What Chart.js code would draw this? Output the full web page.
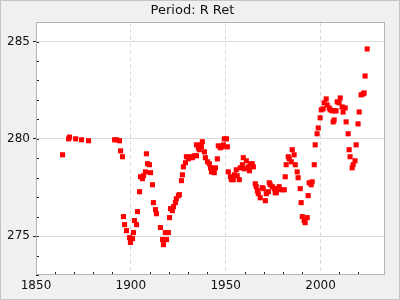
<!DOCTYPE html>
<html>
<head>
<meta charset="utf-8">
<script src="https://cdn.jsdelivr.net/npm/chart.js@4/dist/chart.umd.min.js"></script>
<style>
  html, body { margin: 0; padding: 0; background: #f0f0f0; }
  #wrap { width: 400px; height: 300px; }
</style>
</head>
<body>
<div id="wrap"><canvas id="chart" width="400" height="300"></canvas></div>
<script>
// Period: R Ret
const years = [
  1864.0, 1867.2, 1867.7, 1870.9, 1874.0, 1877.7, 1891.4, 1892.5, 1894.0, 1894.6,
  1895.6, 1896.1, 1896.7, 1897.7, 1899.3, 1899.8, 1900.9, 1901.4, 1901.9, 1903.0,
  1903.5, 1904.6, 1905.1, 1906.1, 1906.7, 1907.7, 1908.2, 1908.8, 1909.8, 1910.4,
  1911.4, 1911.9, 1913.0, 1913.5, 1915.6, 1916.7, 1917.2, 1917.7, 1918.2, 1918.8,
  1919.8, 1920.4, 1920.9, 1921.9, 1922.5, 1923.5, 1924.0, 1925.1, 1925.6, 1926.7,
  1927.2, 1927.7, 1928.8, 1929.3, 1930.4, 1931.4, 1932.5, 1933.5, 1934.6, 1934.6,
  1935.6, 1936.1, 1936.7, 1937.2, 1937.7, 1938.8, 1939.3, 1940.4, 1941.4, 1942.0,
  1942.5, 1943.5, 1944.0, 1944.6, 1945.6, 1946.1, 1947.2, 1948.2, 1948.8, 1949.3,
  1950.4, 1950.9, 1951.4, 1952.5, 1953.0, 1954.0, 1954.6, 1955.6, 1956.1, 1957.2,
  1957.7, 1958.8, 1959.3, 1959.8, 1960.9, 1961.9, 1962.5, 1963.0, 1964.0, 1964.6,
  1965.6, 1966.1, 1966.7, 1967.2, 1968.2, 1969.3, 1969.8, 1970.9, 1971.4, 1972.5,
  1973.0, 1973.5, 1974.6, 1975.6, 1976.1, 1976.7, 1977.2, 1978.2, 1979.3, 1980.9,
  1981.4, 1981.9, 1983.0, 1983.5, 1984.6, 1985.1, 1986.1, 1986.7, 1987.7, 1988.2,
  1989.3, 1989.8, 1990.4, 1991.4, 1991.9, 1993.0, 1993.5, 1994.0, 1995.1, 1995.6,
  1996.7, 1997.2, 1998.2, 1998.8, 1999.8, 2000.4, 2001.4, 2001.9, 2003.0, 2003.5,
  2004.6, 2005.1, 2006.1, 2006.7, 2007.2, 2007.7, 2008.2, 2008.8, 2009.8, 2010.4,
  2011.4, 2011.9, 2013.0, 2013.5, 2014.6, 2015.1, 2015.6, 2016.7, 2017.2, 2018.2,
  2018.8, 2019.8, 2020.4, 2021.4, 2022.5, 2023.0, 2023.5, 2024.6
];
const values = [
  279.18, 280.00, 280.09, 280.00, 279.95, 279.90, 279.95, 279.95, 279.90, 279.38,
  279.08, 276.00, 275.59, 275.28, 274.92, 274.67, 274.87, 275.18, 275.80, 275.59,
  276.26, 277.28, 278.05, 277.95, 278.10, 278.30, 279.23, 278.72, 278.67, 278.26,
  277.64, 276.72, 276.36, 276.15, 275.44, 274.82, 274.56, 274.82, 275.18, 274.82,
  275.18, 275.95, 276.41, 276.31, 276.51, 276.72, 276.92, 277.08, 277.13, 277.85,
  278.15, 278.56, 278.77, 279.08, 278.97, 279.08, 279.03, 279.13, 279.13, 279.69,
  279.54, 279.44, 279.69, 279.59, 279.85, 279.33, 279.03, 278.82, 278.72, 278.51,
  278.30, 278.46, 278.26, 278.51, 278.97, 279.64, 279.54, 279.59, 279.69, 280.00,
  280.00, 279.59, 278.30, 278.05, 277.90, 277.90, 278.15, 278.41, 278.10, 277.90,
  278.51, 278.67, 279.03, 278.46, 278.87, 278.56, 278.36, 278.72, 278.72, 278.56,
  277.69, 277.54, 277.33, 277.18, 276.97, 277.49, 277.44, 276.82, 277.18, 277.28,
  277.74, 277.64, 277.54, 277.44, 277.23, 277.23, 277.44, 277.54, 277.38, 277.38,
  278.05, 278.67, 279.08, 278.97, 278.82, 279.44, 279.18, 278.67, 278.30, 278.00,
  277.44, 276.72, 276.00, 275.80, 275.69, 275.95, 277.08, 277.74, 277.64, 277.79,
  278.67, 279.69, 280.26, 280.56, 281.08, 281.49, 281.54, 281.85, 282.05, 281.74,
  281.59, 281.49, 281.44, 280.87, 280.97, 281.44, 281.44, 281.90, 281.85, 282.10,
  281.64, 281.38, 281.59, 280.87, 280.26, 279.44, 279.08, 278.51, 278.67, 278.87,
  279.69, 280.77, 281.38, 282.26, 282.31, 282.36, 283.23, 284.62
];
const titleText = 'Period: R Ret';

const points = years.map((y, i) => ({ x: y, y: values[i] }));

// frame, plot border and the small inward ticks
const framePlugin = {
  id: 'frame',
  beforeDraw(chart) {
    const ctx = chart.ctx;
    ctx.save();
    ctx.fillStyle = '#f0f0f0';
    ctx.fillRect(0, 0, chart.width, chart.height);
    const a = chart.chartArea;
    ctx.fillStyle = '#ffffff';
    ctx.fillRect(a.left, a.top, a.right - a.left, a.bottom - a.top);
    ctx.restore();
  },
  afterDraw(chart) {
    const ctx = chart.ctx;
    const a = chart.chartArea;
    ctx.save();
    ctx.strokeStyle = '#222';
    ctx.lineWidth = 1;
    ctx.beginPath();
    chart.scales.x.ticks.forEach(t => {
      if (t.value % 10 !== 0 || t.value % 50 === 0) return;
      const px = Math.round(chart.scales.x.getPixelForValue(t.value)) + 0.5;
      ctx.moveTo(px, a.bottom);
      ctx.lineTo(px, a.bottom - 3);
    });
    chart.scales.y.ticks.forEach(t => {
      const py = Math.round(chart.scales.y.getPixelForValue(t.value)) + 0.5;
      ctx.moveTo(a.left, py);
      ctx.lineTo(a.left + 3, py);
    });
    ctx.stroke();
    ctx.strokeStyle = '#b4b4b4';
    ctx.strokeRect(Math.round(a.left) + 0.5, Math.round(a.top) + 0.5,
      Math.round(a.right - a.left) - 1, Math.round(a.bottom - a.top) - 1);
    ctx.strokeStyle = '#c4c4c4';
    ctx.strokeRect(0.5, 0.5, chart.width - 1, chart.height - 1);
    ctx.restore();
  }
};

new Chart(document.getElementById('chart'), {
  type: 'scatter',
  data: {
    datasets: [{
      data: points,
      pointStyle: 'rect',
      pointRadius: 3.6,
      pointHoverRadius: 3.6,
      borderWidth: 0,
      backgroundColor: '#ff0000',
      borderColor: '#ff0000'
    }]
  },
  options: {
    responsive: false,
    animation: false,
    events: [],
    layout: { padding: { left: 0, right: 15, top: 0, bottom: 0 } },
    plugins: {
      legend: { display: false },
      tooltip: { enabled: false },
      title: {
        display: true,
        text: titleText,
        color: '#111',
        font: { family: 'DejaVu Sans', size: 13, weight: 'normal' },
        padding: { top: 3, bottom: 3.5 }
      }
    },
    scales: {
      x: {
        type: 'linear',
        min: 1850,
        max: 2034,
        afterFit(s) { s.height = 25; },
        ticks: {
          stepSize: 10,
          autoSkip: false,
          maxRotation: 0,
          padding: 4,
          color: '#111',
          font: { family: 'DejaVu Sans', size: 12 },
          callback: v => (v % 50 === 0 ? String(v) : '')
        },
        grid: {
          drawTicks: false,
          color: c => (c.tick && c.tick.value % 50 === 0 && c.tick.value > 1850 ? '#dcdcdc' : 'transparent')
        },
        border: { display: false, dash: [4, 3] }
      },
      y: {
        min: 273,
        max: 286,
        afterFit(s) { s.width = 36; },
        ticks: {
          stepSize: 1,
          autoSkip: false,
          padding: 3,
          color: '#111',
          font: { family: 'DejaVu Sans', size: 12 },
          callback: v => (v % 5 === 0 ? String(v) : '')
        },
        grid: {
          tickLength: 3,
          color: c => (c.tick && c.tick.value % 5 === 0 ? '#dcdcdc' : 'transparent'),
          tickColor: c => (c.tick && c.tick.value % 5 === 0 ? '#222' : 'transparent')
        },
        border: { display: false }
      }
    }
  },
  plugins: [framePlugin]
});
</script>
</body>
</html>
